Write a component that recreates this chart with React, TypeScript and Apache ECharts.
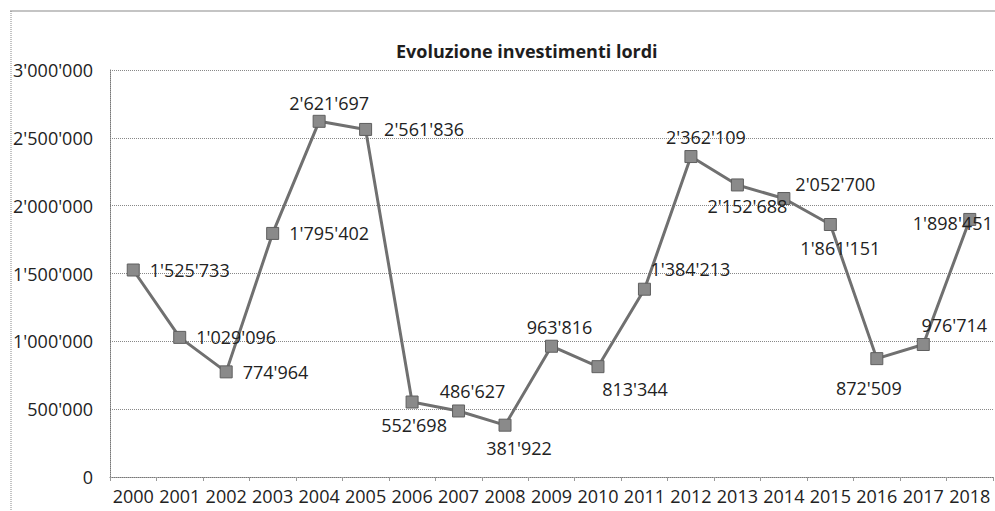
import React, { useEffect, useRef } from "react";
import * as echarts from "echarts";

const years = ["2000","2001","2002","2003","2004","2005","2006","2007","2008","2009","2010","2011","2012","2013","2014","2015","2016","2017","2018"];
const investments = [1525733, 1029096, 774964, 1795402, 2621697, 2561836, 552698, 486627, 381922, 963816, 813344, 1384213, 2362109, 2152688, 2052700, 1861151, 872509, 976714, 1898451];
const chartTitle = "Evoluzione investimenti lordi";

// label placement per point (style only)
const labelPlacement: any[] = [
  { position: "right", distance: 10 },
  { position: "right", distance: 10 },
  { position: "right", distance: 10 },
  { position: "right", distance: 10 },
  { position: "top", offset: [10, 2] },
  { position: "right", distance: 12 },
  { position: "bottom", offset: [2, 2] },
  { position: "top", offset: [14, 1] },
  { position: "bottom", offset: [14, 2] },
  { position: "top", offset: [8, 1] },
  { position: "bottom", offset: [37, 2] },
  { position: "top", offset: [46, 0] },
  { position: "top", offset: [15, 1] },
  { position: "bottom", offset: [10, 1] },
  { position: "right", offset: [0, -15] },
  { position: "bottom", offset: [10, 3] },
  { position: "bottom", offset: [-8, 9] },
  { position: "top", offset: [31, 1] },
  { position: "inside", offset: [-17, 4] },
];

const fmt = (v: number) => {
  const s = Math.round(v).toString();
  return s.replace(/\B(?=(\d{3})+(?!\d))/g, "'");
};

const FONT = "'Open Sans', sans-serif";

export default function App() {
  const ref = useRef<HTMLDivElement>(null);
  useEffect(() => {
    if (!ref.current) return;
    const chart = echarts.init(ref.current, null, { renderer: "svg" });
    chart.setOption({
      animation: false,
      backgroundColor: "#ffffff",
      title: {
        text: chartTitle,
        left: 391,
        top: 37,
        textStyle: { fontFamily: FONT, fontSize: 18, fontWeight: "bold", color: "#1e1e1e" },
      },
      graphic: [
        { type: "line", shape: { x1: 10, y1: 11, x2: 995, y2: 11 }, style: { stroke: "#c4c4c4", lineWidth: 2 } },
        { type: "line", shape: { x1: 11, y1: 11, x2: 11, y2: 511 }, style: { stroke: "#888", lineWidth: 1, lineDash: [1, 1] } },
      ],
      grid: { left: 110, right: 2, top: 70, bottom: 34 },
      xAxis: {
        type: "category",
        data: years,
        boundaryGap: true,
        axisLine: { show: true, lineStyle: { color: "#777", type: [1, 1], width: 1 } },
        axisTick: { show: true, length: 4, lineStyle: { color: "#999" } },
        axisLabel: { fontFamily: FONT, fontSize: 18, color: "#222", margin: 10, interval: 0 },
        splitLine: { show: false },
      },
      yAxis: {
        type: "value",
        min: 0,
        max: 3000000,
        interval: 500000,
        axisLine: { show: true, lineStyle: { color: "#777", type: [1, 1], width: 1 } },
        axisTick: { show: false },
        axisLabel: { fontFamily: FONT, fontSize: 18, color: "#222", margin: 17, formatter: (v: number) => fmt(v) },
        splitLine: { show: true, lineStyle: { color: "#888", type: [1, 1], width: 1 } },
      },
      series: [
        {
          type: "line",
          data: investments.map((v, i) => ({
            value: v,
            label: { show: true, ...labelPlacement[i] },
          })),
          symbol: "rect",
          symbolSize: 12,
          lineStyle: { color: "#707070", width: 3 },
          itemStyle: { color: "#8a8a8a", borderColor: "#5f5f5f", borderWidth: 1 },
          label: {
            show: true,
            fontFamily: FONT,
            fontSize: 18,
            color: "#222",
            formatter: (p: any) => fmt(p.value),
          },
          z: 3,
        },
      ],
    });
    return () => chart.dispose();
  }, []);
  return <div ref={ref} style={{ position: "fixed", left: 0, top: 0, width: 995, height: 511 }} />;
}
